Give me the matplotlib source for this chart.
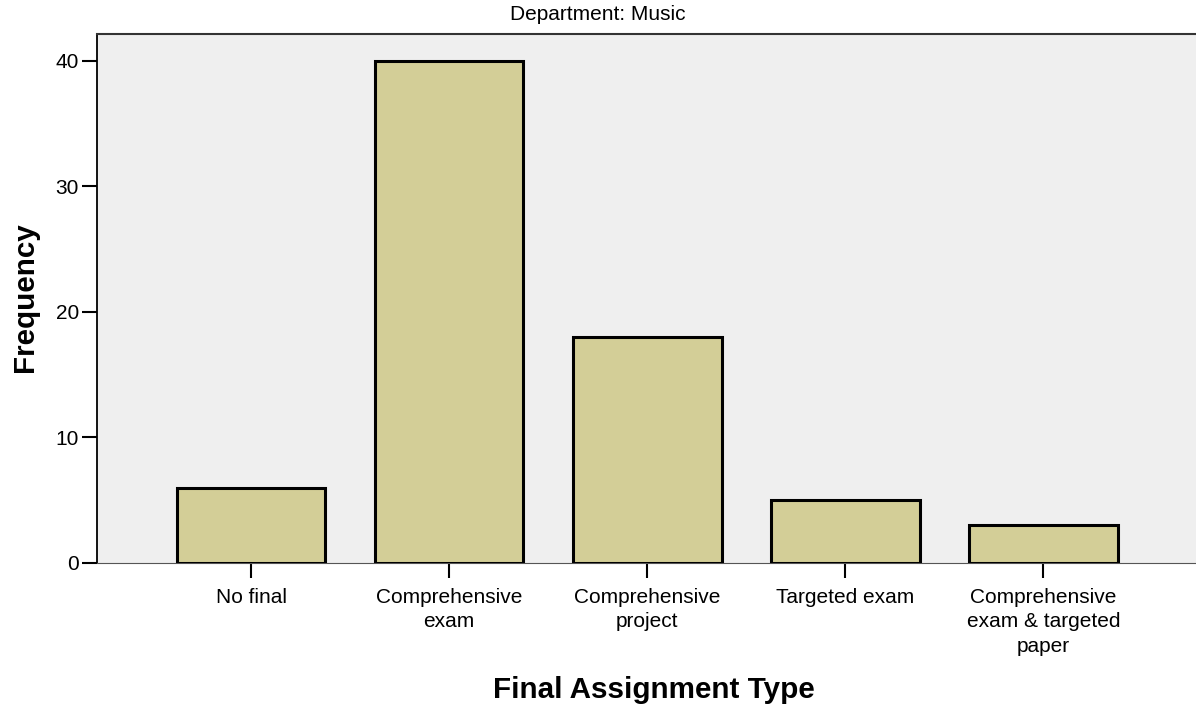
import matplotlib.pyplot as plt
import numpy as np

# Data
categories = ['No final', 'Comprehensive\nexam', 'Comprehensive\nproject',
              'Targeted exam', 'Comprehensive\nexam & targeted\npaper']
frequency = [6, 40, 18, 5, 3]
y_ticks = [0, 10, 20, 30, 40]

plt.rcParams['font.family'] = ['Liberation Sans', 'DejaVu Sans']

bar_color = '#d3ce97'
bg_color = '#efefef'

fig = plt.figure(figsize=(11.96, 7.09), dpi=100)
ax = fig.add_axes([97 / 1196, 1 - 563 / 709, 1 - 97 / 1196, (563 - 34) / 709])
ax.set_facecolor(bg_color)

x = np.arange(len(categories))
ax.bar(x, frequency, width=0.75, color=bar_color, edgecolor='black',
       linewidth=2.2, zorder=3)

ax.set_xlim(-0.778, 4.77)
ax.set_ylim(0, 42.15)
ax.set_yticks(y_ticks)
ax.set_xticks(x)
ax.set_xticklabels(categories, fontsize=15, linespacing=1.35)
ax.tick_params(axis='y', labelsize=15, length=11, width=1.5, pad=2)
ax.tick_params(axis='x', length=11, width=1.5, pad=7)

ax.spines['right'].set_visible(False)
ax.spines['left'].set_linewidth(1.3)
ax.spines['left'].set_color('black')
ax.spines['top'].set_linewidth(1.5)
ax.spines['top'].set_color('#333333')
ax.spines['bottom'].set_linewidth(0.8)
ax.spines['bottom'].set_color('#555555')

# axis titles placed like the original
fig.text(654 / 1196, 1 - 690 / 709, 'Final Assignment Type', fontsize=21.3,
         fontweight='bold', ha='center', va='center')
fig.text(25 / 1196, 1 - 297 / 709, 'Frequency', fontsize=21.3,
         fontweight='bold', ha='center', va='center', rotation=90)
fig.text(0.5, 1 - 15 / 709, 'Department: Music', fontsize=15,
         ha='center', va='center')

plt.savefig('out.png', dpi=100)
